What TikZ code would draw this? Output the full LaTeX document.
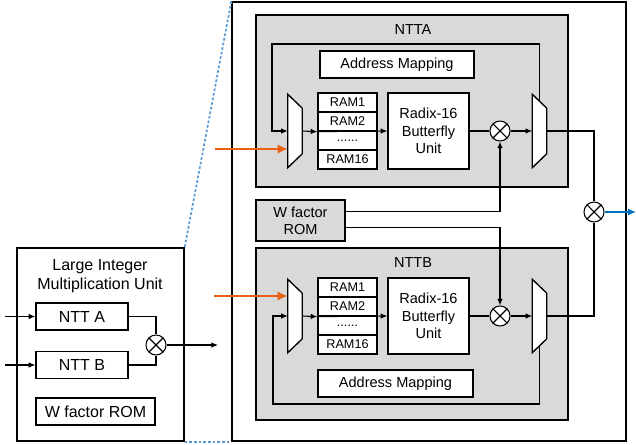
\documentclass[tikz,border=0pt]{standalone}
\usepackage{fontspec}
\setmainfont{Liberation Sans}
\usepackage{tikz}
\usetikzlibrary{arrows.meta}

\definecolor{ntgray}{RGB}{217,217,217}
\definecolor{inorange}{RGB}{232,96,16}
\definecolor{outblue}{RGB}{0,112,192}
\definecolor{zoomblue}{RGB}{91,155,213}

\tikzset{
  blk/.style={draw, fill=white, line width=1pt, inner sep=0pt, align=center,
    font=\fontsize{10.9}{13}\selectfont},
  ram/.style={blk, minimum width=44.25pt, minimum height=14.25pt,
    font=\fontsize{9.5}{11}\selectfont},
  grp/.style={draw, fill=ntgray, line width=1pt, inner sep=0pt},
  lmu/.style={blk, font=\fontsize{12}{14.25}\selectfont},
  mult/.style={circle, draw, fill=white, line width=0.8pt, minimum size=15pt, inner sep=0pt,
    path picture={\draw[line width=0.8pt]
      (path picture bounding box.south west) -- (path picture bounding box.north east)
      (path picture bounding box.north west) -- (path picture bounding box.south east);}},
  wire/.style={line width=0.8pt},
  arr/.style={wire, -{Latex[length=5pt,width=4.2pt]}},
  bigarr/.style={-{Latex[length=7.5pt,width=7pt]}},
}

% mux body: name, x, y  (yshift is flipped by yscale=-1)
\newcommand{\muxunit}[3]{%
  \node (#1) [minimum width=10.5pt, minimum height=54.75pt, inner sep=0pt] at (#2,#3) {};
  \draw[line width=1pt, fill=white] (#1.north west) -- ([yshift=10.5pt]#1.north east)
    -- ([yshift=-10.5pt]#1.south east) -- (#1.south west) -- cycle;
}

\begin{document}
\begin{tikzpicture}[x=0.75pt,y=0.75pt,yscale=-1,xscale=1]

\useasboundingbox (0,0) rectangle (636,445);

% Left unit
\node (lmu) [blk, minimum width=125.25pt, minimum height=144.75pt] at (100.5,344.5) {};
\node (lmutitle) [font=\fontsize{12}{14.25}\selectfont, align=center, inner sep=0pt] at (100,276)
  {Large Integer\\Multiplication Unit};
\node (ntta) [lmu, minimum width=69pt, minimum height=20.25pt] at (82,316.5) {NTT A};
\node (nttb) [lmu, minimum width=69pt, minimum height=20.25pt] at (82,365) {NTT B};
\node (wroml) [lmu, minimum width=89.25pt, minimum height=20.25pt] at (95.5,411.5) {W factor ROM};
\node (mull) [mult] at (156,345) {};
\coordinate (inla) at (5,316.5);
\coordinate (inlb) at (5,365);
\coordinate (outl) at (218,345);

\draw[arr] (inla) -- (ntta.west);
\draw[arr] (inlb) -- (nttb.west);
\draw[wire] (ntta.east) -| (mull.north);
\draw[wire] (nttb.east) -| (mull.south);
\draw[arr] (mull.east) -- (outl);

% Outer box and zoom lines
\node (top) [draw, line width=1pt, inner sep=0pt, minimum width=295.5pt, minimum height=329.25pt]
  at (429,221.5) {};
\draw[zoomblue, line width=1.3pt, dash pattern=on 2pt off 1.5pt] (top.north west) -- (lmu.north east);
\draw[zoomblue, line width=1.3pt, dash pattern=on 2pt off 1.5pt] (lmu.south east) -- (top.south west);

% NTTA
\node (ntta grp) [grp, minimum width=234pt, minimum height=129pt] at (412,101) {};
\node (ntta lbl) [font=\fontsize{10.9}{13}\selectfont] at (413,30) {NTTA};
\node (addra) [blk, minimum width=115.5pt, minimum height=20.25pt] at (397,64.5) {Address Mapping};
\node (rama1) [ram] at (347.5,102.5) {RAM1};
\node (rama2) [ram] at (347.5,121.5) {RAM2};
\node (rama3) [ram] at (347.5,140.5) {......};
\node (rama4) [ram] at (347.5,159.5) {RAM16};
\node (rada) [blk, minimum width=60.75pt, minimum height=57pt] at (428.5,131) {Radix-16\\Butterfly\\Unit};
\node (mula) [mult] at (500,131) {};
\muxunit{muxa1}{295}{131}
\muxunit{muxa2}{539.5}{131}
\coordinate (ina) at (215,149);
\coordinate (fba) at (272,44);

% NTTB
\node (nttb grp) [grp, minimum width=234pt, minimum height=129pt] at (412,334) {};
\node (nttb lbl) [font=\fontsize{10.9}{13}\selectfont] at (413,263) {NTTB};
\node (addrb) [blk, minimum width=116.25pt, minimum height=20.25pt] at (395.5,383.5) {Address Mapping};
\node (ramb1) [ram] at (347.5,287.5) {RAM1};
\node (ramb2) [ram] at (347.5,306.5) {RAM2};
\node (ramb3) [ram] at (347.5,325.5) {......};
\node (ramb4) [ram] at (347.5,344.5) {RAM16};
\node (radb) [blk, minimum width=60.75pt, minimum height=57pt] at (428.5,316) {Radix-16\\Butterfly\\Unit};
\node (mulb) [mult] at (500,316) {};
\muxunit{muxb1}{295}{316}
\muxunit{muxb2}{539.5}{316}
\coordinate (inb) at (214,296);
\coordinate (fbb) at (273,404);

% W factor ROM and output
\node (wrom) [blk, fill=ntgray, minimum width=66.75pt, minimum height=30.75pt] at (300.5,220.5) {W factor\\ROM};
\node (mulo) [mult] at (594,212) {};
\coordinate (outo) at (636,212);

% Lines
\draw[inorange, line width=2pt, bigarr] (ina) -- (ina -| muxa1.west);
\draw[arr] ([yshift=5.25pt]muxa2.north) |- (fba) |- (muxa1.west);
\draw[arr] (muxa1.east) -- (rama2.south west);
\draw[arr] (rama2.south west) -- (rada.west);
\draw[wire] (rada.east) -- (mula.west);
\draw[arr] (mula.east) -- (muxa2.west);
\draw[wire] (muxa2.east) -| (mulo.north);

\draw[inorange, line width=2pt, bigarr] (inb) -- (inb -| muxb1.west);
\draw[arr] ([yshift=-5.25pt]muxb2.south) |- (fbb) |- (muxb1.west);
\draw[arr] (muxb1.east) -- (ramb2.south west);
\draw[arr] (ramb2.south west) -- (radb.west);
\draw[wire] (radb.east) -- (mulb.west);
\draw[arr] (mulb.east) -- (muxb2.west);
\draw[wire] (muxb2.east) -| (mulo.south);

\draw[arr] ([yshift=-6.4pt]wrom.east) -| (mula.south);
\draw[arr] ([yshift=5.6pt]wrom.east) -| (mulb.north);
\draw[outblue, line width=1.6pt, -{Latex[length=6pt,width=5.5pt]}] (mulo.east) -- (outo);

\end{tikzpicture}
\end{document}
